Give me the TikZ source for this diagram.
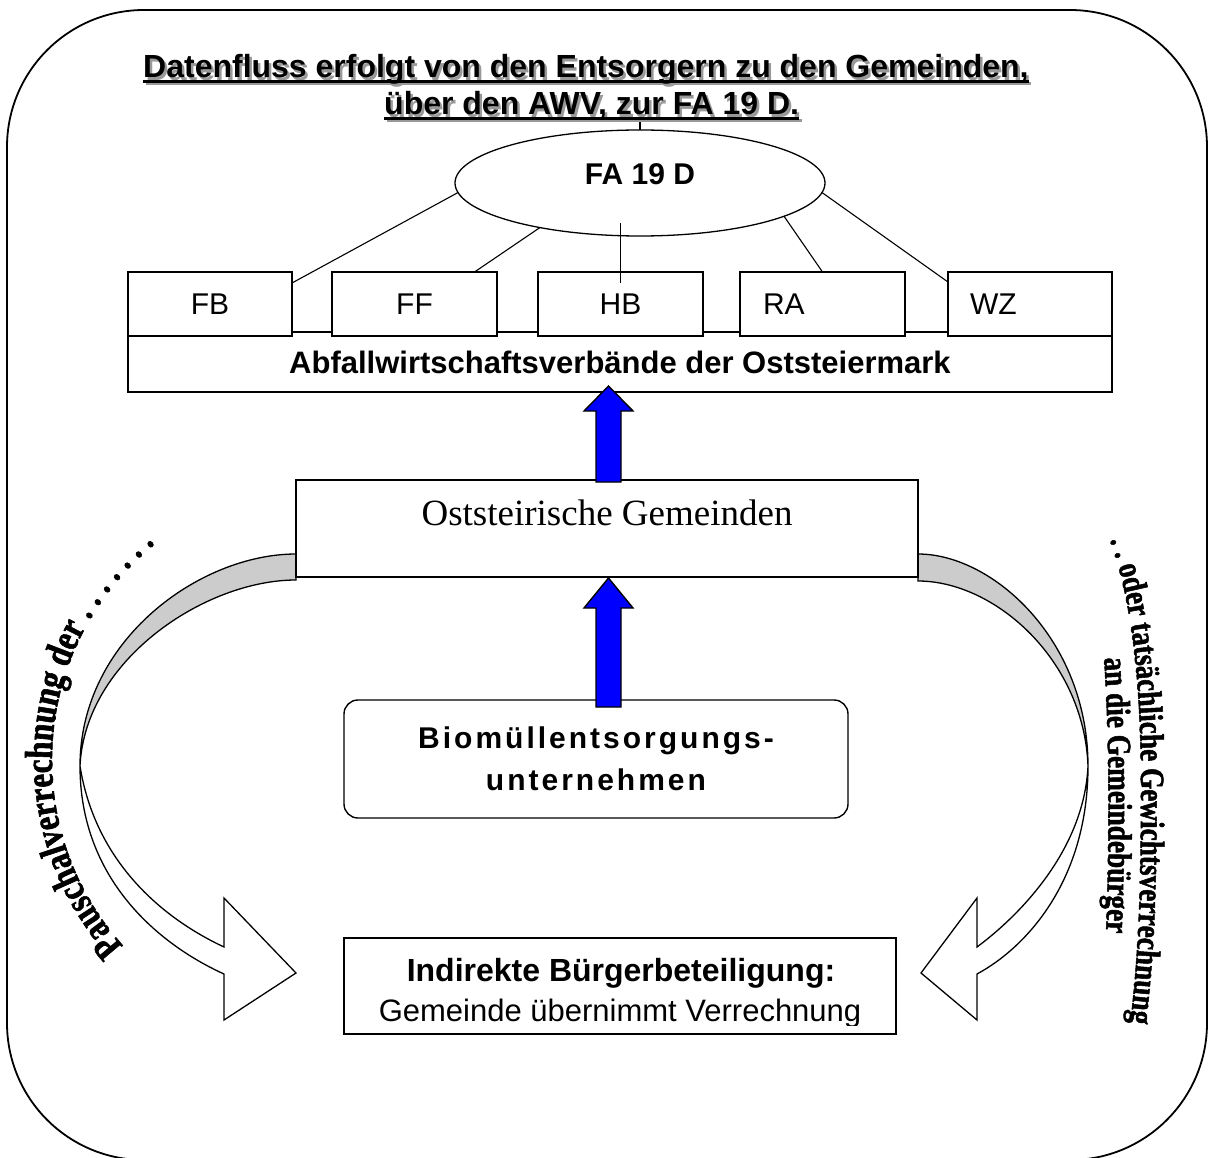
\documentclass[tikz,border=0pt]{standalone}
\usepackage{fontspec}
\setmainfont{Liberation Serif}
\newfontfamily\arial{Liberation Sans}
\newfontfamily\arcfont[FakeStretch=0.8, BoldFeatures={FakeBold=1.5}]{Liberation Serif}
\usetikzlibrary{shapes.geometric,decorations.text}
\newcommand\ulx[1]{\setbox0=\hbox{#1}\rlap{\rule[-5pt]{\wd0}{3pt}}\box0}
\newcommand\arcfmtL{\arcfont\bfseries\fontsize{39}{39}\selectfont}
\newcommand\arcfmtR{\arcfont\bfseries\fontsize{34}{34}\selectfont}
\begin{document}
\begin{tikzpicture}[x=1pt,y=1pt,
  box/.style={draw, line width=1.4pt, fill=white, inner sep=0pt, outer sep=0pt},
  link/.style={line width=1.1pt},
  blockarrow/.style={draw, line width=1.4pt, fill=blue, line join=miter},
  ribbon/.style={draw, line width=1.3pt, line join=miter},
  title/.style={inner sep=0pt, anchor=base west, font=\arial\bfseries\fontsize{32}{38}\selectfont}]
\useasboundingbox (0,0) rectangle (1208,-1158);
% frame
\draw[line width=1.8pt, rounded corners=137pt] (7,-10) rectangle (1207,-1160);

% title with shadow
\node[title, text=black!40] (t1s) at (145.5,-80.5) {\ulx{Datenfluss erfolgt von den Entsorgern zu den Gemeinden,}};
\node[title] (t1) at (143,-78) {\ulx{Datenfluss erfolgt von den Entsorgern zu den Gemeinden,}};
\node[title, text=black!40] (t2s) at (386.5,-117.5) {\ulx{über den AWV, zur FA 19 D.}};
\node[title] (t2) at (384,-115) {\ulx{über den AWV, zur FA 19 D.}};

% curved arrows (left)
\path[ribbon, fill=black!20] (296,-554) .. controls (200,-554) and (80,-640) .. (80,-766)
  .. controls (85,-660) and (205,-580) .. (296,-580) -- cycle;
\path[ribbon, fill=white] (80,-766) .. controls (80,-880) and (160,-945) .. (224,-974)
  -- (224,-1020) -- (296,-973) -- (224,-898) -- (224,-947)
  .. controls (160,-917) and (95,-860) .. (80,-766) -- cycle;
% curved arrows (right)
\path[ribbon, fill=black!20] (918,-554) .. controls (993,-554) and (1088,-640) .. (1088,-766)
  .. controls (1084,-660) and (995,-581) .. (918,-581) -- cycle;
\path[ribbon, fill=white] (1088,-766) .. controls (1088,-880) and (1027,-947) .. (977,-974)
  -- (977,-1020) -- (921,-973) -- (977,-898) -- (977,-947)
  .. controls (1020,-915) and (1084,-850) .. (1088,-766) -- cycle;

% ellipse
\node[ellipse, draw, line width=1.3pt, minimum width=370pt, minimum height=106pt, inner sep=0pt, outer sep=0pt,
  font=\arial\bfseries\fontsize{30}{36}\selectfont, text height=22pt, text depth=18pt] (fa) at (640,-183) {FA 19 D};

% AWV boxes
\node[box, minimum width=984pt, minimum height=60pt, font=\arial\bfseries\fontsize{31}{36}\selectfont] (awv) at (620,-362) {Abfallwirtschaftsverbände der Oststeiermark};
\node[box, minimum width=164pt, minimum height=64pt, font=\arial\fontsize{30}{36}\selectfont] (fb) at (210,-304) {FB};
\node[box, minimum width=165pt, minimum height=64pt, font=\arial\fontsize{30}{36}\selectfont] (ff) at (414.5,-304) {FF};
\node[box, minimum width=165pt, minimum height=64pt, font=\arial\fontsize{30}{36}\selectfont] (hb) at (620.5,-304) {HB};
\node[box, minimum width=165pt, minimum height=64pt, inner xsep=23pt, text width=119pt, align=left, font=\arial\fontsize{30}{36}\selectfont] (ra) at (822.5,-304) {RA};
\node[box, minimum width=164pt, minimum height=64pt, inner xsep=22pt, text width=120pt, align=left, font=\arial\fontsize{30}{36}\selectfont] (wz) at (1030,-304) {WZ};

% links
\draw[link] (fa.183) -- ([yshift=-11pt]fb.north east);
\draw[link] (fa.204) -- ([xshift=60pt]ff.north);
\draw[link] ([xshift=-19.5pt,yshift=-40pt]fa.center) -- ([yshift=-11pt]hb.north);
\draw[link] (fa.347) -- (ra.north);
\draw[link] (fa.357) -- ([yshift=-10pt]wz.north west);
\draw[link] (fa.north) -- ([yshift=8pt]fa.north);

% Gemeinden
\node[box, minimum width=622pt, minimum height=97pt, font=\fontsize{37}{44}\selectfont, text height=25pt, text depth=32pt] (ost) at (607,-528.5) {Oststeirische Gemeinden};

% Biomuell
\node[box, rounded corners=14pt, minimum width=504pt, minimum height=118pt, align=center,
  font=\arial\bfseries\fontsize{30}{42}\selectfont\addfontfeature{LetterSpace=10}] (bio) at (596,-759) {Biomüllentsorgungs-\\unternehmen};

% Buergerbeteiligung
\node[box, minimum width=552pt, minimum height=96pt] (bb) at (620,-986) {};
\begin{scope}
\clip (344,-938) rectangle (896,-1025);
\node[inner sep=0pt, anchor=base, font=\arial\bfseries\fontsize{32}{38}\selectfont] (bbt1) at (621,-981) {Indirekte Bürgerbeteiligung:};
\node[inner sep=0pt, anchor=base, font=\arial\fontsize{31}{38}\selectfont] (bbt2) at (620,-1021) {Gemeinde übernimmt Verrechnung};
\end{scope}

% blue arrows
\draw[blockarrow] (596,-482) -- (596,-411) -- (584,-411) -- (608.5,-386) -- (633,-411) -- (621,-411) -- (621,-482) -- cycle;
\draw[blockarrow] (596,-707) -- (596,-608) -- (584,-608) -- (608.5,-578) -- (633,-608) -- (621,-608) -- (621,-707) -- cycle;

% curved texts
\path[decorate, decoration={text along path, text align=left,
  text={|\arcfmtL|Pauschalverrechnung der . . . . . . .}}]
  (330,-760) ++(222:278) arc[start angle=222, end angle=100, radius=278];
\path[decorate, decoration={text along path, text align=left,
  text={|\arcfmtR|. . oder tatsächliche Gewichtsverrechnung}}]
  (1110,-540) .. controls (1135,-610) and (1141,-700) .. (1141,-790)
  .. controls (1141,-900) and (1138,-990) .. (1122,-1075);
\path[decorate, decoration={text along path, text align=left,
  text={|\arcfmtR|an die Gemeindebürger}}]
  (1104,-658) .. controls (1110,-740) and (1110,-870) .. (1104,-975);
\end{tikzpicture}
\end{document}
